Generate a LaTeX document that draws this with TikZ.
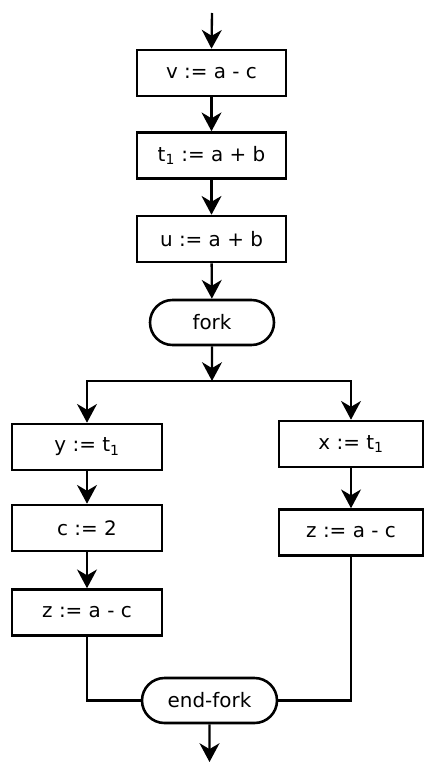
\documentclass[tikz,border=0pt]{standalone}
\usepackage{fontspec}
\setmainfont{DejaVu Sans}
\usetikzlibrary{shapes.misc,arrows.meta}

\tikzset{
  box/.style={shape=rectangle,draw=black,line width=2.2pt,minimum width=4.47cm,minimum height=1.38cm,inner sep=0pt,font=\fontsize{17}{20}\selectfont},
  term/.style={shape=rounded rectangle,draw=black,line width=2.2pt,minimum height=1.35cm,inner sep=0pt,font=\fontsize{17}{20}\selectfont},
  flow/.style={-{Stealth[length=16pt,width=17pt,inset=5pt]},draw=black,line width=2pt},
  link/.style={-,draw=black,line width=2pt}
}

\begin{document}
\begin{tikzpicture}[x=0.03cm,y=-0.03cm]
\useasboundingbox (0,0) rectangle (423,763);

\coordinate (entry) at (212,13);
\node[box] (v) at (211.5,73) {v := a - c};
\node[box] (t1) at (211.5,155.5) {t\textsubscript{1} := a + b};
\node[box] (u) at (211.5,239) {u := a + b};
\node[term,minimum width=3.72cm] (fork) at (212,322.5) {fork};
\coordinate (split) at (212,381);

\node[box,minimum width=4.5cm] (y) at (87,447) {y := t\textsubscript{1}};
\node[box,minimum width=4.5cm] (c) at (87,528) {c := 2};
\node[box,minimum width=4.5cm] (zl) at (87,612.5) {z := a - c};

\node[box,minimum width=4.32cm] (x) at (351,444) {x := t\textsubscript{1}};
\node[box,minimum width=4.32cm] (zr) at (351,532.5) {z := a - c};

\node[term,minimum width=4.05cm] (endfork) at (209.5,700.5) {end-fork};
\coordinate (exit) at (209.5,762);

\draw[flow] (entry) -- (v.north);
\path[flow] (v) edge (t1);
\path[flow] (t1) edge (u);
\path[flow] (u) edge (fork);
\path[flow] (fork) edge (split);
\draw[flow] (split) -| (y.north);
\draw[flow] (split) -| (x.north);
\path[flow] (y) edge (c);
\path[flow] (c) edge (zl);
\path[flow] (x) edge (zr);
\draw[link] (zl.south) |- (endfork.west);
\draw[link] (zr.south) |- (endfork.east);
\draw[flow] (endfork) -- (exit);
\end{tikzpicture}
\end{document}
